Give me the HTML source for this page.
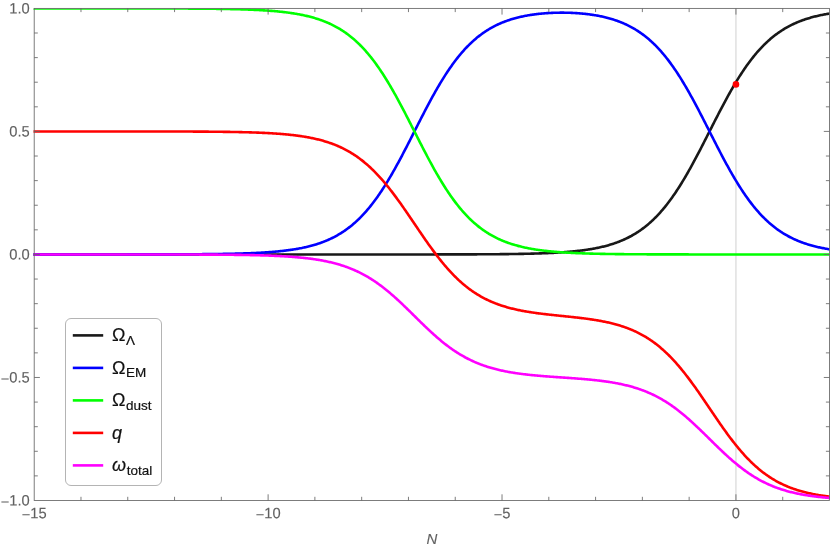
<!DOCTYPE html>
<html><head><meta charset="utf-8"><title>plot</title>
<style>html,body{margin:0;padding:0;background:#fff;}svg{display:block;}text{font-family:"Liberation Sans",sans-serif;}</style></head><body>
<svg width="830" height="548" viewBox="0 0 830 548">
<rect width="830" height="548" fill="#ffffff"/>
<line x1="735.94" y1="8.40" x2="735.94" y2="500.50" stroke="#cccccc" stroke-width="0.9"/>
<clipPath id="pc"><rect x="33.50" y="8.40" width="796.00" height="492.10"/></clipPath>
<g fill="none" stroke-width="2.60" stroke-linejoin="round" stroke-linecap="butt" clip-path="url(#pc)">
<path d="M32.33 254.45 L33.26 254.45 L34.20 254.45 L35.14 254.45 L36.07 254.45 L37.01 254.45 L37.94 254.45 L38.88 254.45 L39.81 254.45 L40.75 254.45 L41.69 254.45 L42.62 254.45 L43.56 254.45 L44.49 254.45 L45.43 254.45 L46.36 254.45 L47.30 254.45 L48.23 254.45 L49.17 254.45 L50.11 254.45 L51.04 254.45 L51.98 254.45 L52.91 254.45 L53.85 254.45 L54.78 254.45 L55.72 254.45 L56.66 254.45 L57.59 254.45 L58.53 254.45 L59.46 254.45 L60.40 254.45 L61.33 254.45 L62.27 254.45 L63.21 254.45 L64.14 254.45 L65.08 254.45 L66.01 254.45 L66.95 254.45 L67.88 254.45 L68.82 254.45 L69.75 254.45 L70.69 254.45 L71.63 254.45 L72.56 254.45 L73.50 254.45 L74.43 254.45 L75.37 254.45 L76.30 254.45 L77.24 254.45 L78.18 254.45 L79.11 254.45 L80.05 254.45 L80.98 254.45 L81.92 254.45 L82.85 254.45 L83.79 254.45 L84.72 254.45 L85.66 254.45 L86.60 254.45 L87.53 254.45 L88.47 254.45 L89.40 254.45 L90.34 254.45 L91.27 254.45 L92.21 254.45 L93.15 254.45 L94.08 254.45 L95.02 254.45 L95.95 254.45 L96.89 254.45 L97.82 254.45 L98.76 254.45 L99.70 254.45 L100.63 254.45 L101.57 254.45 L102.50 254.45 L103.44 254.45 L104.37 254.45 L105.31 254.45 L106.24 254.45 L107.18 254.45 L108.12 254.45 L109.05 254.45 L109.99 254.45 L110.92 254.45 L111.86 254.45 L112.79 254.45 L113.73 254.45 L114.67 254.45 L115.60 254.45 L116.54 254.45 L117.47 254.45 L118.41 254.45 L119.34 254.45 L120.28 254.45 L121.22 254.45 L122.15 254.45 L123.09 254.45 L124.02 254.45 L124.96 254.45 L125.89 254.45 L126.83 254.45 L127.76 254.45 L128.70 254.45 L129.64 254.45 L130.57 254.45 L131.51 254.45 L132.44 254.45 L133.38 254.45 L134.31 254.45 L135.25 254.45 L136.19 254.45 L137.12 254.45 L138.06 254.45 L138.99 254.45 L139.93 254.45 L140.86 254.45 L141.80 254.45 L142.74 254.45 L143.67 254.45 L144.61 254.45 L145.54 254.45 L146.48 254.45 L147.41 254.45 L148.35 254.45 L149.28 254.45 L150.22 254.45 L151.16 254.45 L152.09 254.45 L153.03 254.45 L153.96 254.45 L154.90 254.45 L155.83 254.45 L156.77 254.45 L157.71 254.45 L158.64 254.45 L159.58 254.45 L160.51 254.45 L161.45 254.45 L162.38 254.45 L163.32 254.45 L164.25 254.45 L165.19 254.45 L166.13 254.45 L167.06 254.45 L168.00 254.45 L168.93 254.45 L169.87 254.45 L170.80 254.45 L171.74 254.45 L172.68 254.45 L173.61 254.45 L174.55 254.45 L175.48 254.45 L176.42 254.45 L177.35 254.45 L178.29 254.45 L179.23 254.45 L180.16 254.45 L181.10 254.45 L182.03 254.45 L182.97 254.45 L183.90 254.45 L184.84 254.45 L185.77 254.45 L186.71 254.45 L187.65 254.45 L188.58 254.45 L189.52 254.45 L190.45 254.45 L191.39 254.45 L192.32 254.45 L193.26 254.45 L194.20 254.45 L195.13 254.45 L196.07 254.45 L197.00 254.45 L197.94 254.45 L198.87 254.45 L199.81 254.45 L200.75 254.45 L201.68 254.45 L202.62 254.45 L203.55 254.45 L204.49 254.45 L205.42 254.45 L206.36 254.45 L207.29 254.45 L208.23 254.45 L209.17 254.45 L210.10 254.45 L211.04 254.45 L211.97 254.45 L212.91 254.45 L213.84 254.45 L214.78 254.45 L215.72 254.45 L216.65 254.45 L217.59 254.45 L218.52 254.45 L219.46 254.45 L220.39 254.45 L221.33 254.45 L222.27 254.45 L223.20 254.45 L224.14 254.45 L225.07 254.45 L226.01 254.45 L226.94 254.45 L227.88 254.45 L228.81 254.45 L229.75 254.45 L230.69 254.45 L231.62 254.45 L232.56 254.45 L233.49 254.45 L234.43 254.45 L235.36 254.45 L236.30 254.45 L237.24 254.45 L238.17 254.45 L239.11 254.45 L240.04 254.45 L240.98 254.45 L241.91 254.45 L242.85 254.45 L243.78 254.45 L244.72 254.45 L245.66 254.45 L246.59 254.45 L247.53 254.45 L248.46 254.45 L249.40 254.45 L250.33 254.45 L251.27 254.45 L252.21 254.45 L253.14 254.45 L254.08 254.45 L255.01 254.45 L255.95 254.45 L256.88 254.45 L257.82 254.45 L258.76 254.45 L259.69 254.45 L260.63 254.45 L261.56 254.45 L262.50 254.45 L263.43 254.45 L264.37 254.45 L265.30 254.45 L266.24 254.45 L267.18 254.45 L268.11 254.45 L269.05 254.45 L269.98 254.45 L270.92 254.45 L271.85 254.45 L272.79 254.45 L273.73 254.45 L274.66 254.45 L275.60 254.45 L276.53 254.45 L277.47 254.45 L278.40 254.45 L279.34 254.45 L280.28 254.45 L281.21 254.45 L282.15 254.45 L283.08 254.45 L284.02 254.45 L284.95 254.45 L285.89 254.45 L286.82 254.45 L287.76 254.45 L288.70 254.45 L289.63 254.45 L290.57 254.45 L291.50 254.45 L292.44 254.45 L293.37 254.45 L294.31 254.45 L295.25 254.45 L296.18 254.45 L297.12 254.45 L298.05 254.45 L298.99 254.45 L299.92 254.45 L300.86 254.45 L301.80 254.45 L302.73 254.45 L303.67 254.45 L304.60 254.45 L305.54 254.45 L306.47 254.45 L307.41 254.45 L308.34 254.45 L309.28 254.45 L310.22 254.45 L311.15 254.45 L312.09 254.45 L313.02 254.45 L313.96 254.45 L314.89 254.45 L315.83 254.45 L316.77 254.45 L317.70 254.45 L318.64 254.45 L319.57 254.45 L320.51 254.45 L321.44 254.45 L322.38 254.45 L323.31 254.45 L324.25 254.45 L325.19 254.45 L326.12 254.45 L327.06 254.45 L327.99 254.45 L328.93 254.45 L329.86 254.45 L330.80 254.45 L331.74 254.45 L332.67 254.45 L333.61 254.45 L334.54 254.45 L335.48 254.45 L336.41 254.45 L337.35 254.45 L338.29 254.45 L339.22 254.45 L340.16 254.45 L341.09 254.45 L342.03 254.45 L342.96 254.45 L343.90 254.45 L344.83 254.45 L345.77 254.45 L346.71 254.45 L347.64 254.45 L348.58 254.45 L349.51 254.45 L350.45 254.45 L351.38 254.45 L352.32 254.45 L353.26 254.45 L354.19 254.45 L355.13 254.45 L356.06 254.45 L357.00 254.45 L357.93 254.45 L358.87 254.45 L359.81 254.45 L360.74 254.45 L361.68 254.45 L362.61 254.45 L363.55 254.45 L364.48 254.45 L365.42 254.45 L366.35 254.45 L367.29 254.45 L368.23 254.45 L369.16 254.45 L370.10 254.45 L371.03 254.45 L371.97 254.45 L372.90 254.45 L373.84 254.45 L374.78 254.45 L375.71 254.45 L376.65 254.45 L377.58 254.45 L378.52 254.45 L379.45 254.45 L380.39 254.45 L381.33 254.45 L382.26 254.45 L383.20 254.45 L384.13 254.45 L385.07 254.45 L386.00 254.45 L386.94 254.45 L387.87 254.45 L388.81 254.45 L389.75 254.45 L390.68 254.45 L391.62 254.45 L392.55 254.45 L393.49 254.45 L394.42 254.45 L395.36 254.45 L396.30 254.45 L397.23 254.45 L398.17 254.45 L399.10 254.45 L400.04 254.45 L400.97 254.45 L401.91 254.44 L402.84 254.44 L403.78 254.44 L404.72 254.44 L405.65 254.44 L406.59 254.44 L407.52 254.44 L408.46 254.44 L409.39 254.44 L410.33 254.44 L411.27 254.44 L412.20 254.44 L413.14 254.44 L414.07 254.44 L415.01 254.44 L415.94 254.44 L416.88 254.44 L417.82 254.44 L418.75 254.44 L419.69 254.44 L420.62 254.44 L421.56 254.44 L422.49 254.44 L423.43 254.44 L424.36 254.43 L425.30 254.43 L426.24 254.43 L427.17 254.43 L428.11 254.43 L429.04 254.43 L429.98 254.43 L430.91 254.43 L431.85 254.43 L432.79 254.43 L433.72 254.43 L434.66 254.43 L435.59 254.42 L436.53 254.42 L437.46 254.42 L438.40 254.42 L439.34 254.42 L440.27 254.42 L441.21 254.42 L442.14 254.42 L443.08 254.42 L444.01 254.41 L444.95 254.41 L445.88 254.41 L446.82 254.41 L447.76 254.41 L448.69 254.41 L449.63 254.41 L450.56 254.40 L451.50 254.40 L452.43 254.40 L453.37 254.40 L454.31 254.40 L455.24 254.39 L456.18 254.39 L457.11 254.39 L458.05 254.39 L458.98 254.39 L459.92 254.38 L460.86 254.38 L461.79 254.38 L462.73 254.38 L463.66 254.37 L464.60 254.37 L465.53 254.37 L466.47 254.36 L467.40 254.36 L468.34 254.36 L469.28 254.36 L470.21 254.35 L471.15 254.35 L472.08 254.34 L473.02 254.34 L473.95 254.34 L474.89 254.33 L475.83 254.33 L476.76 254.33 L477.70 254.32 L478.63 254.32 L479.57 254.31 L480.50 254.31 L481.44 254.30 L482.37 254.30 L483.31 254.29 L484.25 254.29 L485.18 254.28 L486.12 254.28 L487.05 254.27 L487.99 254.27 L488.92 254.26 L489.86 254.25 L490.80 254.25 L491.73 254.24 L492.67 254.23 L493.60 254.23 L494.54 254.22 L495.47 254.21 L496.41 254.20 L497.35 254.19 L498.28 254.19 L499.22 254.18 L500.15 254.17 L501.09 254.16 L502.02 254.15 L502.96 254.14 L503.89 254.13 L504.83 254.12 L505.77 254.11 L506.70 254.10 L507.64 254.09 L508.57 254.08 L509.51 254.07 L510.44 254.05 L511.38 254.04 L512.32 254.03 L513.25 254.01 L514.19 254.00 L515.12 253.99 L516.06 253.97 L516.99 253.96 L517.93 253.94 L518.87 253.92 L519.80 253.91 L520.74 253.89 L521.67 253.87 L522.61 253.86 L523.54 253.84 L524.48 253.82 L525.41 253.80 L526.35 253.78 L527.29 253.76 L528.22 253.74 L529.16 253.71 L530.09 253.69 L531.03 253.67 L531.96 253.64 L532.90 253.62 L533.84 253.59 L534.77 253.56 L535.71 253.54 L536.64 253.51 L537.58 253.48 L538.51 253.45 L539.45 253.42 L540.39 253.39 L541.32 253.35 L542.26 253.32 L543.19 253.29 L544.13 253.25 L545.06 253.21 L546.00 253.17 L546.93 253.14 L547.87 253.10 L548.81 253.05 L549.74 253.01 L550.68 252.97 L551.61 252.92 L552.55 252.87 L553.48 252.83 L554.42 252.78 L555.36 252.73 L556.29 252.67 L557.23 252.62 L558.16 252.56 L559.10 252.50 L560.03 252.45 L560.97 252.38 L561.90 252.32 L562.84 252.26 L563.78 252.19 L564.71 252.12 L565.65 252.05 L566.58 251.98 L567.52 251.90 L568.45 251.83 L569.39 251.75 L570.33 251.66 L571.26 251.58 L572.20 251.49 L573.13 251.40 L574.07 251.31 L575.00 251.22 L575.94 251.12 L576.88 251.02 L577.81 250.91 L578.75 250.81 L579.68 250.70 L580.62 250.58 L581.55 250.47 L582.49 250.35 L583.42 250.22 L584.36 250.10 L585.30 249.97 L586.23 249.83 L587.17 249.69 L588.10 249.55 L589.04 249.40 L589.97 249.25 L590.91 249.10 L591.85 248.94 L592.78 248.77 L593.72 248.60 L594.65 248.43 L595.59 248.25 L596.52 248.07 L597.46 247.88 L598.40 247.68 L599.33 247.48 L600.27 247.27 L601.20 247.06 L602.14 246.84 L603.07 246.62 L604.01 246.39 L604.94 246.15 L605.88 245.90 L606.82 245.65 L607.75 245.39 L608.69 245.13 L609.62 244.86 L610.56 244.57 L611.49 244.29 L612.43 243.99 L613.37 243.68 L614.30 243.37 L615.24 243.05 L616.17 242.72 L617.11 242.38 L618.04 242.03 L618.98 241.67 L619.92 241.30 L620.85 240.92 L621.79 240.53 L622.72 240.13 L623.66 239.72 L624.59 239.30 L625.53 238.87 L626.46 238.42 L627.40 237.97 L628.34 237.50 L629.27 237.02 L630.21 236.52 L631.14 236.02 L632.08 235.50 L633.01 234.97 L633.95 234.42 L634.89 233.86 L635.82 233.29 L636.76 232.70 L637.69 232.10 L638.63 231.48 L639.56 230.85 L640.50 230.20 L641.43 229.54 L642.37 228.86 L643.31 228.16 L644.24 227.45 L645.18 226.72 L646.11 225.97 L647.05 225.20 L647.98 224.42 L648.92 223.62 L649.86 222.80 L650.79 221.97 L651.73 221.11 L652.66 220.24 L653.60 219.34 L654.53 218.43 L655.47 217.50 L656.41 216.54 L657.34 215.57 L658.28 214.58 L659.21 213.57 L660.15 212.53 L661.08 211.48 L662.02 210.40 L662.95 209.31 L663.89 208.19 L664.83 207.05 L665.76 205.89 L666.70 204.71 L667.63 203.51 L668.57 202.29 L669.50 201.05 L670.44 199.78 L671.38 198.49 L672.31 197.19 L673.25 195.86 L674.18 194.51 L675.12 193.14 L676.05 191.74 L676.99 190.33 L677.93 188.90 L678.86 187.45 L679.80 185.97 L680.73 184.48 L681.67 182.97 L682.60 181.44 L683.54 179.89 L684.47 178.32 L685.41 176.73 L686.35 175.13 L687.28 173.51 L688.22 171.87 L689.15 170.21 L690.09 168.54 L691.02 166.86 L691.96 165.16 L692.90 163.45 L693.83 161.72 L694.77 159.98 L695.70 158.23 L696.64 156.46 L697.57 154.69 L698.51 152.90 L699.45 151.11 L700.38 149.31 L701.32 147.50 L702.25 145.68 L703.19 143.85 L704.12 142.03 L705.06 140.19 L705.99 138.35 L706.93 136.51 L707.87 134.67 L708.80 132.82 L709.74 130.98 L710.67 129.13 L711.61 127.29 L712.54 125.45 L713.48 123.61 L714.42 121.77 L715.35 119.94 L716.29 118.11 L717.22 116.29 L718.16 114.48 L719.09 112.67 L720.03 110.87 L720.96 109.08 L721.90 107.30 L722.84 105.53 L723.77 103.78 L724.71 102.03 L725.64 100.30 L726.58 98.58 L727.51 96.87 L728.45 95.18 L729.39 93.50 L730.32 91.84 L731.26 90.19 L732.19 88.56 L733.13 86.95 L734.06 85.35 L735.00 83.77 L735.94 82.21 L736.87 80.67 L737.81 79.15 L738.74 77.65 L739.68 76.17 L740.61 74.70 L741.55 73.26 L742.48 71.84 L743.42 70.44 L744.36 69.05 L745.29 67.69 L746.23 66.35 L747.16 65.04 L748.10 63.74 L749.03 62.46 L749.97 61.21 L750.91 59.97 L751.84 58.76 L752.78 57.57 L753.71 56.40 L754.65 55.25 L755.58 54.12 L756.52 53.02 L757.46 51.93 L758.39 50.87 L759.33 49.82 L760.26 48.80 L761.20 47.80 L762.13 46.82 L763.07 45.85 L764.00 44.91 L764.94 43.99 L765.88 43.08 L766.81 42.20 L767.75 41.33 L768.68 40.49 L769.62 39.66 L770.55 38.85 L771.49 38.06 L772.43 37.29 L773.36 36.53 L774.30 35.79 L775.23 35.07 L776.17 34.36 L777.10 33.68 L778.04 33.00 L778.98 32.35 L779.91 31.71 L780.85 31.08 L781.78 30.47 L782.72 29.87 L783.65 29.29 L784.59 28.73 L785.52 28.18 L786.46 27.64 L787.40 27.11 L788.33 26.60 L789.27 26.10 L790.20 25.61 L791.14 25.14 L792.07 24.68 L793.01 24.23 L793.95 23.79 L794.88 23.36 L795.82 22.95 L796.75 22.54 L797.69 22.15 L798.62 21.76 L799.56 21.39 L800.49 21.02 L801.43 20.67 L802.37 20.32 L803.30 19.99 L804.24 19.66 L805.17 19.34 L806.11 19.03 L807.04 18.73 L807.98 18.44 L808.92 18.15 L809.85 17.88 L810.79 17.61 L811.72 17.35 L812.66 17.09 L813.59 16.84 L814.53 16.60 L815.47 16.37 L816.40 16.14 L817.34 15.92 L818.27 15.70 L819.21 15.49 L820.14 15.29 L821.08 15.09 L822.01 14.90 L822.95 14.71 L823.89 14.53 L824.82 14.35 L825.76 14.18 L826.69 14.01 L827.63 13.85 L828.56 13.69 L829.50 13.54 L830.44 13.39 L831.37 13.25" stroke="#181818"/>
<path d="M32.33 254.45 L33.26 254.45 L34.20 254.45 L35.14 254.45 L36.07 254.45 L37.01 254.45 L37.94 254.45 L38.88 254.45 L39.81 254.45 L40.75 254.45 L41.69 254.45 L42.62 254.45 L43.56 254.45 L44.49 254.45 L45.43 254.45 L46.36 254.45 L47.30 254.45 L48.23 254.45 L49.17 254.45 L50.11 254.45 L51.04 254.45 L51.98 254.45 L52.91 254.45 L53.85 254.45 L54.78 254.45 L55.72 254.45 L56.66 254.45 L57.59 254.45 L58.53 254.45 L59.46 254.45 L60.40 254.45 L61.33 254.45 L62.27 254.45 L63.21 254.45 L64.14 254.45 L65.08 254.45 L66.01 254.45 L66.95 254.45 L67.88 254.45 L68.82 254.45 L69.75 254.45 L70.69 254.45 L71.63 254.45 L72.56 254.45 L73.50 254.45 L74.43 254.45 L75.37 254.45 L76.30 254.45 L77.24 254.45 L78.18 254.44 L79.11 254.44 L80.05 254.44 L80.98 254.44 L81.92 254.44 L82.85 254.44 L83.79 254.44 L84.72 254.44 L85.66 254.44 L86.60 254.44 L87.53 254.44 L88.47 254.44 L89.40 254.44 L90.34 254.44 L91.27 254.44 L92.21 254.44 L93.15 254.44 L94.08 254.44 L95.02 254.44 L95.95 254.44 L96.89 254.44 L97.82 254.44 L98.76 254.44 L99.70 254.44 L100.63 254.44 L101.57 254.44 L102.50 254.44 L103.44 254.44 L104.37 254.44 L105.31 254.44 L106.24 254.44 L107.18 254.44 L108.12 254.44 L109.05 254.44 L109.99 254.44 L110.92 254.44 L111.86 254.43 L112.79 254.43 L113.73 254.43 L114.67 254.43 L115.60 254.43 L116.54 254.43 L117.47 254.43 L118.41 254.43 L119.34 254.43 L120.28 254.43 L121.22 254.43 L122.15 254.43 L123.09 254.43 L124.02 254.43 L124.96 254.43 L125.89 254.43 L126.83 254.43 L127.76 254.42 L128.70 254.42 L129.64 254.42 L130.57 254.42 L131.51 254.42 L132.44 254.42 L133.38 254.42 L134.31 254.42 L135.25 254.42 L136.19 254.42 L137.12 254.42 L138.06 254.42 L138.99 254.41 L139.93 254.41 L140.86 254.41 L141.80 254.41 L142.74 254.41 L143.67 254.41 L144.61 254.41 L145.54 254.41 L146.48 254.40 L147.41 254.40 L148.35 254.40 L149.28 254.40 L150.22 254.40 L151.16 254.40 L152.09 254.40 L153.03 254.39 L153.96 254.39 L154.90 254.39 L155.83 254.39 L156.77 254.39 L157.71 254.38 L158.64 254.38 L159.58 254.38 L160.51 254.38 L161.45 254.38 L162.38 254.37 L163.32 254.37 L164.25 254.37 L165.19 254.37 L166.13 254.36 L167.06 254.36 L168.00 254.36 L168.93 254.36 L169.87 254.35 L170.80 254.35 L171.74 254.35 L172.68 254.34 L173.61 254.34 L174.55 254.34 L175.48 254.33 L176.42 254.33 L177.35 254.33 L178.29 254.32 L179.23 254.32 L180.16 254.32 L181.10 254.31 L182.03 254.31 L182.97 254.30 L183.90 254.30 L184.84 254.29 L185.77 254.29 L186.71 254.28 L187.65 254.28 L188.58 254.27 L189.52 254.27 L190.45 254.26 L191.39 254.26 L192.32 254.25 L193.26 254.25 L194.20 254.24 L195.13 254.23 L196.07 254.23 L197.00 254.22 L197.94 254.21 L198.87 254.21 L199.81 254.20 L200.75 254.19 L201.68 254.18 L202.62 254.17 L203.55 254.17 L204.49 254.16 L205.42 254.15 L206.36 254.14 L207.29 254.13 L208.23 254.12 L209.17 254.11 L210.10 254.10 L211.04 254.09 L211.97 254.08 L212.91 254.07 L213.84 254.05 L214.78 254.04 L215.72 254.03 L216.65 254.02 L217.59 254.00 L218.52 253.99 L219.46 253.98 L220.39 253.96 L221.33 253.95 L222.27 253.93 L223.20 253.92 L224.14 253.90 L225.07 253.88 L226.01 253.87 L226.94 253.85 L227.88 253.83 L228.81 253.81 L229.75 253.79 L230.69 253.77 L231.62 253.75 L232.56 253.73 L233.49 253.71 L234.43 253.69 L235.36 253.66 L236.30 253.64 L237.24 253.61 L238.17 253.59 L239.11 253.56 L240.04 253.54 L240.98 253.51 L241.91 253.48 L242.85 253.45 L243.78 253.42 L244.72 253.39 L245.66 253.36 L246.59 253.32 L247.53 253.29 L248.46 253.25 L249.40 253.22 L250.33 253.18 L251.27 253.14 L252.21 253.10 L253.14 253.06 L254.08 253.02 L255.01 252.98 L255.95 252.93 L256.88 252.88 L257.82 252.84 L258.76 252.79 L259.69 252.74 L260.63 252.69 L261.56 252.63 L262.50 252.58 L263.43 252.52 L264.37 252.46 L265.30 252.40 L266.24 252.34 L267.18 252.28 L268.11 252.21 L269.05 252.15 L269.98 252.08 L270.92 252.00 L271.85 251.93 L272.79 251.85 L273.73 251.78 L274.66 251.70 L275.60 251.61 L276.53 251.53 L277.47 251.44 L278.40 251.35 L279.34 251.26 L280.28 251.16 L281.21 251.06 L282.15 250.96 L283.08 250.85 L284.02 250.75 L284.95 250.64 L285.89 250.52 L286.82 250.40 L287.76 250.28 L288.70 250.16 L289.63 250.03 L290.57 249.90 L291.50 249.76 L292.44 249.62 L293.37 249.48 L294.31 249.33 L295.25 249.18 L296.18 249.02 L297.12 248.86 L298.05 248.69 L298.99 248.52 L299.92 248.34 L300.86 248.16 L301.80 247.98 L302.73 247.78 L303.67 247.59 L304.60 247.38 L305.54 247.18 L306.47 246.96 L307.41 246.74 L308.34 246.51 L309.28 246.28 L310.22 246.04 L311.15 245.79 L312.09 245.54 L313.02 245.28 L313.96 245.01 L314.89 244.73 L315.83 244.45 L316.77 244.15 L317.70 243.85 L318.64 243.55 L319.57 243.23 L320.51 242.90 L321.44 242.57 L322.38 242.22 L323.31 241.87 L324.25 241.51 L325.19 241.14 L326.12 240.75 L327.06 240.36 L327.99 239.96 L328.93 239.54 L329.86 239.12 L330.80 238.68 L331.74 238.23 L332.67 237.77 L333.61 237.30 L334.54 236.81 L335.48 236.31 L336.41 235.80 L337.35 235.28 L338.29 234.74 L339.22 234.19 L340.16 233.63 L341.09 233.05 L342.03 232.46 L342.96 231.85 L343.90 231.22 L344.83 230.58 L345.77 229.93 L346.71 229.26 L347.64 228.57 L348.58 227.87 L349.51 227.15 L350.45 226.41 L351.38 225.66 L352.32 224.89 L353.26 224.10 L354.19 223.29 L355.13 222.47 L356.06 221.62 L357.00 220.76 L357.93 219.88 L358.87 218.98 L359.81 218.06 L360.74 217.12 L361.68 216.16 L362.61 215.18 L363.55 214.18 L364.48 213.16 L365.42 212.11 L366.35 211.05 L367.29 209.97 L368.23 208.87 L369.16 207.74 L370.10 206.60 L371.03 205.43 L371.97 204.24 L372.90 203.03 L373.84 201.80 L374.78 200.55 L375.71 199.27 L376.65 197.98 L377.58 196.66 L378.52 195.33 L379.45 193.97 L380.39 192.59 L381.33 191.19 L382.26 189.77 L383.20 188.33 L384.13 186.87 L385.07 185.39 L386.00 183.89 L386.94 182.37 L387.87 180.83 L388.81 179.27 L389.75 177.70 L390.68 176.11 L391.62 174.50 L392.55 172.87 L393.49 171.22 L394.42 169.56 L395.36 167.89 L396.30 166.20 L397.23 164.49 L398.17 162.77 L399.10 161.04 L400.04 159.30 L400.97 157.54 L401.91 155.77 L402.84 153.99 L403.78 152.21 L404.72 150.41 L405.65 148.60 L406.59 146.79 L407.52 144.97 L408.46 143.15 L409.39 141.32 L410.33 139.48 L411.27 137.64 L412.20 135.80 L413.14 133.96 L414.07 132.11 L415.01 130.27 L415.94 128.42 L416.88 126.58 L417.82 124.74 L418.75 122.90 L419.69 121.07 L420.62 119.24 L421.56 117.41 L422.49 115.59 L423.43 113.78 L424.36 111.98 L425.30 110.19 L426.24 108.40 L427.17 106.63 L428.11 104.86 L429.04 103.11 L429.98 101.37 L430.91 99.64 L431.85 97.93 L432.79 96.23 L433.72 94.54 L434.66 92.87 L435.59 91.21 L436.53 89.57 L437.46 87.95 L438.40 86.35 L439.34 84.76 L440.27 83.19 L441.21 81.64 L442.14 80.11 L443.08 78.59 L444.01 77.10 L444.95 75.62 L445.88 74.17 L446.82 72.74 L447.76 71.32 L448.69 69.93 L449.63 68.56 L450.56 67.21 L451.50 65.88 L452.43 64.57 L453.37 63.28 L454.31 62.02 L455.24 60.77 L456.18 59.55 L457.11 58.35 L458.05 57.16 L458.98 56.01 L459.92 54.87 L460.86 53.75 L461.79 52.65 L462.73 51.58 L463.66 50.53 L464.60 49.49 L465.53 48.48 L466.47 47.49 L467.40 46.52 L468.34 45.56 L469.28 44.63 L470.21 43.72 L471.15 42.83 L472.08 41.95 L473.02 41.10 L473.95 40.26 L474.89 39.45 L475.83 38.65 L476.76 37.87 L477.70 37.10 L478.63 36.36 L479.57 35.63 L480.50 34.92 L481.44 34.23 L482.37 33.55 L483.31 32.89 L484.25 32.24 L485.18 31.61 L486.12 31.00 L487.05 30.40 L487.99 29.82 L488.92 29.25 L489.86 28.69 L490.80 28.15 L491.73 27.63 L492.67 27.11 L493.60 26.61 L494.54 26.13 L495.47 25.65 L496.41 25.19 L497.35 24.74 L498.28 24.30 L499.22 23.88 L500.15 23.46 L501.09 23.06 L502.02 22.67 L502.96 22.29 L503.89 21.92 L504.83 21.56 L505.77 21.21 L506.70 20.87 L507.64 20.54 L508.57 20.22 L509.51 19.90 L510.44 19.60 L511.38 19.31 L512.32 19.02 L513.25 18.75 L514.19 18.48 L515.12 18.22 L516.06 17.97 L516.99 17.72 L517.93 17.49 L518.87 17.26 L519.80 17.03 L520.74 16.82 L521.67 16.61 L522.61 16.41 L523.54 16.21 L524.48 16.03 L525.41 15.84 L526.35 15.67 L527.29 15.50 L528.22 15.34 L529.16 15.18 L530.09 15.03 L531.03 14.88 L531.96 14.74 L532.90 14.60 L533.84 14.47 L534.77 14.35 L535.71 14.23 L536.64 14.11 L537.58 14.00 L538.51 13.90 L539.45 13.80 L540.39 13.70 L541.32 13.61 L542.26 13.53 L543.19 13.44 L544.13 13.37 L545.06 13.29 L546.00 13.22 L546.93 13.16 L547.87 13.10 L548.81 13.04 L549.74 12.99 L550.68 12.94 L551.61 12.90 L552.55 12.86 L553.48 12.82 L554.42 12.79 L555.36 12.76 L556.29 12.73 L557.23 12.71 L558.16 12.70 L559.10 12.68 L560.03 12.67 L560.97 12.67 L561.90 12.66 L562.84 12.67 L563.78 12.67 L564.71 12.68 L565.65 12.69 L566.58 12.71 L567.52 12.73 L568.45 12.76 L569.39 12.78 L570.33 12.82 L571.26 12.85 L572.20 12.89 L573.13 12.94 L574.07 12.98 L575.00 13.04 L575.94 13.09 L576.88 13.15 L577.81 13.22 L578.75 13.28 L579.68 13.36 L580.62 13.43 L581.55 13.52 L582.49 13.60 L583.42 13.69 L584.36 13.79 L585.30 13.89 L586.23 13.99 L587.17 14.10 L588.10 14.21 L589.04 14.33 L589.97 14.46 L590.91 14.59 L591.85 14.72 L592.78 14.86 L593.72 15.01 L594.65 15.16 L595.59 15.32 L596.52 15.48 L597.46 15.65 L598.40 15.82 L599.33 16.00 L600.27 16.19 L601.20 16.38 L602.14 16.59 L603.07 16.79 L604.01 17.01 L604.94 17.23 L605.88 17.46 L606.82 17.69 L607.75 17.94 L608.69 18.19 L609.62 18.45 L610.56 18.71 L611.49 18.99 L612.43 19.27 L613.37 19.56 L614.30 19.87 L615.24 20.18 L616.17 20.50 L617.11 20.83 L618.04 21.16 L618.98 21.51 L619.92 21.87 L620.85 22.24 L621.79 22.62 L622.72 23.01 L623.66 23.41 L624.59 23.82 L625.53 24.25 L626.46 24.69 L627.40 25.13 L628.34 25.59 L629.27 26.07 L630.21 26.55 L631.14 27.05 L632.08 27.56 L633.01 28.09 L633.95 28.63 L634.89 29.18 L635.82 29.75 L636.76 30.33 L637.69 30.92 L638.63 31.54 L639.56 32.16 L640.50 32.81 L641.43 33.47 L642.37 34.14 L643.31 34.83 L644.24 35.54 L645.18 36.27 L646.11 37.01 L647.05 37.77 L647.98 38.55 L648.92 39.35 L649.86 40.16 L650.79 40.99 L651.73 41.85 L652.66 42.72 L653.60 43.61 L654.53 44.52 L655.47 45.45 L656.41 46.40 L657.34 47.37 L658.28 48.35 L659.21 49.36 L660.15 50.40 L661.08 51.45 L662.02 52.52 L662.95 53.61 L663.89 54.73 L664.83 55.86 L665.76 57.02 L666.70 58.20 L667.63 59.40 L668.57 60.62 L669.50 61.86 L670.44 63.12 L671.38 64.41 L672.31 65.71 L673.25 67.04 L674.18 68.39 L675.12 69.76 L676.05 71.15 L676.99 72.56 L677.93 73.99 L678.86 75.44 L679.80 76.91 L680.73 78.40 L681.67 79.92 L682.60 81.45 L683.54 82.99 L684.47 84.56 L685.41 86.15 L686.35 87.75 L687.28 89.37 L688.22 91.01 L689.15 92.66 L690.09 94.33 L691.02 96.01 L691.96 97.71 L692.90 99.43 L693.83 101.15 L694.77 102.89 L695.70 104.64 L696.64 106.41 L697.57 108.18 L698.51 109.96 L699.45 111.76 L700.38 113.56 L701.32 115.37 L702.25 117.18 L703.19 119.01 L704.12 120.84 L705.06 122.67 L705.99 124.51 L706.93 126.35 L707.87 128.19 L708.80 130.04 L709.74 131.88 L710.67 133.73 L711.61 135.57 L712.54 137.41 L713.48 139.25 L714.42 141.09 L715.35 142.92 L716.29 144.74 L717.22 146.56 L718.16 148.38 L719.09 150.18 L720.03 151.98 L720.96 153.77 L721.90 155.55 L722.84 157.32 L723.77 159.08 L724.71 160.82 L725.64 162.56 L726.58 164.28 L727.51 165.98 L728.45 167.68 L729.39 169.35 L730.32 171.02 L731.26 172.66 L732.19 174.29 L733.13 175.91 L734.06 177.50 L735.00 179.08 L735.94 180.64 L736.87 182.18 L737.81 183.70 L738.74 185.20 L739.68 186.69 L740.61 188.15 L741.55 189.59 L742.48 191.01 L743.42 192.42 L744.36 193.80 L745.29 195.16 L746.23 196.50 L747.16 197.82 L748.10 199.11 L749.03 200.39 L749.97 201.64 L750.91 202.88 L751.84 204.09 L752.78 205.28 L753.71 206.45 L754.65 207.60 L755.58 208.73 L756.52 209.83 L757.46 210.92 L758.39 211.98 L759.33 213.03 L760.26 214.05 L761.20 215.05 L762.13 216.04 L763.07 217.00 L764.00 217.94 L764.94 218.86 L765.88 219.77 L766.81 220.65 L767.75 221.52 L768.68 222.36 L769.62 223.19 L770.55 224.00 L771.49 224.79 L772.43 225.56 L773.36 226.32 L774.30 227.06 L775.23 227.78 L776.17 228.49 L777.10 229.18 L778.04 229.85 L778.98 230.50 L779.91 231.14 L780.85 231.77 L781.78 232.38 L782.72 232.98 L783.65 233.56 L784.59 234.12 L785.52 234.67 L786.46 235.21 L787.40 235.74 L788.33 236.25 L789.27 236.75 L790.20 237.24 L791.14 237.71 L792.07 238.17 L793.01 238.62 L793.95 239.06 L794.88 239.49 L795.82 239.90 L796.75 240.31 L797.69 240.70 L798.62 241.09 L799.56 241.46 L800.49 241.83 L801.43 242.18 L802.37 242.53 L803.30 242.86 L804.24 243.19 L805.17 243.51 L806.11 243.82 L807.04 244.12 L807.98 244.41 L808.92 244.70 L809.85 244.97 L810.79 245.24 L811.72 245.50 L812.66 245.76 L813.59 246.01 L814.53 246.25 L815.47 246.48 L816.40 246.71 L817.34 246.93 L818.27 247.15 L819.21 247.36 L820.14 247.56 L821.08 247.76 L822.01 247.95 L822.95 248.14 L823.89 248.32 L824.82 248.50 L825.76 248.67 L826.69 248.84 L827.63 249.00 L828.56 249.16 L829.50 249.31 L830.44 249.46 L831.37 249.60" stroke="#0000ff"/>
<path d="M32.33 8.40 L33.26 8.40 L34.20 8.40 L35.14 8.40 L36.07 8.40 L37.01 8.40 L37.94 8.40 L38.88 8.40 L39.81 8.40 L40.75 8.40 L41.69 8.40 L42.62 8.40 L43.56 8.40 L44.49 8.40 L45.43 8.40 L46.36 8.40 L47.30 8.40 L48.23 8.40 L49.17 8.40 L50.11 8.40 L51.04 8.40 L51.98 8.40 L52.91 8.40 L53.85 8.40 L54.78 8.40 L55.72 8.40 L56.66 8.40 L57.59 8.40 L58.53 8.40 L59.46 8.40 L60.40 8.40 L61.33 8.40 L62.27 8.40 L63.21 8.40 L64.14 8.40 L65.08 8.40 L66.01 8.40 L66.95 8.40 L67.88 8.40 L68.82 8.40 L69.75 8.40 L70.69 8.40 L71.63 8.40 L72.56 8.40 L73.50 8.40 L74.43 8.40 L75.37 8.40 L76.30 8.40 L77.24 8.40 L78.18 8.41 L79.11 8.41 L80.05 8.41 L80.98 8.41 L81.92 8.41 L82.85 8.41 L83.79 8.41 L84.72 8.41 L85.66 8.41 L86.60 8.41 L87.53 8.41 L88.47 8.41 L89.40 8.41 L90.34 8.41 L91.27 8.41 L92.21 8.41 L93.15 8.41 L94.08 8.41 L95.02 8.41 L95.95 8.41 L96.89 8.41 L97.82 8.41 L98.76 8.41 L99.70 8.41 L100.63 8.41 L101.57 8.41 L102.50 8.41 L103.44 8.41 L104.37 8.41 L105.31 8.41 L106.24 8.41 L107.18 8.41 L108.12 8.41 L109.05 8.41 L109.99 8.41 L110.92 8.41 L111.86 8.42 L112.79 8.42 L113.73 8.42 L114.67 8.42 L115.60 8.42 L116.54 8.42 L117.47 8.42 L118.41 8.42 L119.34 8.42 L120.28 8.42 L121.22 8.42 L122.15 8.42 L123.09 8.42 L124.02 8.42 L124.96 8.42 L125.89 8.42 L126.83 8.42 L127.76 8.43 L128.70 8.43 L129.64 8.43 L130.57 8.43 L131.51 8.43 L132.44 8.43 L133.38 8.43 L134.31 8.43 L135.25 8.43 L136.19 8.43 L137.12 8.43 L138.06 8.43 L138.99 8.44 L139.93 8.44 L140.86 8.44 L141.80 8.44 L142.74 8.44 L143.67 8.44 L144.61 8.44 L145.54 8.44 L146.48 8.45 L147.41 8.45 L148.35 8.45 L149.28 8.45 L150.22 8.45 L151.16 8.45 L152.09 8.45 L153.03 8.46 L153.96 8.46 L154.90 8.46 L155.83 8.46 L156.77 8.46 L157.71 8.47 L158.64 8.47 L159.58 8.47 L160.51 8.47 L161.45 8.47 L162.38 8.48 L163.32 8.48 L164.25 8.48 L165.19 8.48 L166.13 8.49 L167.06 8.49 L168.00 8.49 L168.93 8.49 L169.87 8.50 L170.80 8.50 L171.74 8.50 L172.68 8.51 L173.61 8.51 L174.55 8.51 L175.48 8.52 L176.42 8.52 L177.35 8.52 L178.29 8.53 L179.23 8.53 L180.16 8.53 L181.10 8.54 L182.03 8.54 L182.97 8.55 L183.90 8.55 L184.84 8.56 L185.77 8.56 L186.71 8.57 L187.65 8.57 L188.58 8.58 L189.52 8.58 L190.45 8.59 L191.39 8.59 L192.32 8.60 L193.26 8.60 L194.20 8.61 L195.13 8.62 L196.07 8.62 L197.00 8.63 L197.94 8.64 L198.87 8.64 L199.81 8.65 L200.75 8.66 L201.68 8.67 L202.62 8.68 L203.55 8.68 L204.49 8.69 L205.42 8.70 L206.36 8.71 L207.29 8.72 L208.23 8.73 L209.17 8.74 L210.10 8.75 L211.04 8.76 L211.97 8.77 L212.91 8.78 L213.84 8.80 L214.78 8.81 L215.72 8.82 L216.65 8.83 L217.59 8.85 L218.52 8.86 L219.46 8.87 L220.39 8.89 L221.33 8.90 L222.27 8.92 L223.20 8.93 L224.14 8.95 L225.07 8.97 L226.01 8.98 L226.94 9.00 L227.88 9.02 L228.81 9.04 L229.75 9.06 L230.69 9.08 L231.62 9.10 L232.56 9.12 L233.49 9.14 L234.43 9.16 L235.36 9.19 L236.30 9.21 L237.24 9.24 L238.17 9.26 L239.11 9.29 L240.04 9.31 L240.98 9.34 L241.91 9.37 L242.85 9.40 L243.78 9.43 L244.72 9.46 L245.66 9.49 L246.59 9.53 L247.53 9.56 L248.46 9.60 L249.40 9.63 L250.33 9.67 L251.27 9.71 L252.21 9.75 L253.14 9.79 L254.08 9.83 L255.01 9.87 L255.95 9.92 L256.88 9.97 L257.82 10.01 L258.76 10.06 L259.69 10.11 L260.63 10.16 L261.56 10.22 L262.50 10.27 L263.43 10.33 L264.37 10.39 L265.30 10.45 L266.24 10.51 L267.18 10.57 L268.11 10.64 L269.05 10.70 L269.98 10.77 L270.92 10.85 L271.85 10.92 L272.79 11.00 L273.73 11.07 L274.66 11.15 L275.60 11.24 L276.53 11.32 L277.47 11.41 L278.40 11.50 L279.34 11.59 L280.28 11.69 L281.21 11.79 L282.15 11.89 L283.08 12.00 L284.02 12.10 L284.95 12.21 L285.89 12.33 L286.82 12.45 L287.76 12.57 L288.70 12.69 L289.63 12.82 L290.57 12.95 L291.50 13.09 L292.44 13.23 L293.37 13.37 L294.31 13.52 L295.25 13.67 L296.18 13.83 L297.12 13.99 L298.05 14.16 L298.99 14.33 L299.92 14.51 L300.86 14.69 L301.80 14.87 L302.73 15.07 L303.67 15.26 L304.60 15.47 L305.54 15.67 L306.47 15.89 L307.41 16.11 L308.34 16.34 L309.28 16.57 L310.22 16.81 L311.15 17.06 L312.09 17.31 L313.02 17.57 L313.96 17.84 L314.89 18.12 L315.83 18.40 L316.77 18.70 L317.70 19.00 L318.64 19.30 L319.57 19.62 L320.51 19.95 L321.44 20.28 L322.38 20.63 L323.31 20.98 L324.25 21.34 L325.19 21.71 L326.12 22.10 L327.06 22.49 L327.99 22.89 L328.93 23.31 L329.86 23.73 L330.80 24.17 L331.74 24.62 L332.67 25.08 L333.61 25.55 L334.54 26.04 L335.48 26.54 L336.41 27.05 L337.35 27.57 L338.29 28.11 L339.22 28.66 L340.16 29.22 L341.09 29.80 L342.03 30.40 L342.96 31.00 L343.90 31.63 L344.83 32.27 L345.77 32.92 L346.71 33.59 L347.64 34.28 L348.58 34.98 L349.51 35.70 L350.45 36.44 L351.38 37.19 L352.32 37.96 L353.26 38.75 L354.19 39.56 L355.13 40.38 L356.06 41.23 L357.00 42.09 L357.93 42.97 L358.87 43.87 L359.81 44.79 L360.74 45.73 L361.68 46.69 L362.61 47.67 L363.55 48.67 L364.48 49.70 L365.42 50.74 L366.35 51.80 L367.29 52.88 L368.23 53.98 L369.16 55.11 L370.10 56.26 L371.03 57.42 L371.97 58.61 L372.90 59.82 L373.84 61.05 L374.78 62.30 L375.71 63.58 L376.65 64.87 L377.58 66.19 L378.52 67.52 L379.45 68.88 L380.39 70.26 L381.33 71.66 L382.26 73.08 L383.20 74.52 L384.13 75.98 L385.07 77.46 L386.00 78.96 L386.94 80.48 L387.87 82.02 L388.81 83.58 L389.75 85.15 L390.68 86.75 L391.62 88.36 L392.55 89.99 L393.49 91.63 L394.42 93.29 L395.36 94.97 L396.30 96.66 L397.23 98.36 L398.17 100.08 L399.10 101.81 L400.04 103.56 L400.97 105.31 L401.91 107.08 L402.84 108.86 L403.78 110.65 L404.72 112.45 L405.65 114.25 L406.59 116.06 L407.52 117.88 L408.46 119.71 L409.39 121.54 L410.33 123.38 L411.27 125.22 L412.20 127.06 L413.14 128.90 L414.07 130.75 L415.01 132.59 L415.94 134.44 L416.88 136.28 L417.82 138.12 L418.75 139.96 L419.69 141.80 L420.62 143.63 L421.56 145.45 L422.49 147.27 L423.43 149.08 L424.36 150.88 L425.30 152.68 L426.24 154.47 L427.17 156.24 L428.11 158.01 L429.04 159.76 L429.98 161.50 L430.91 163.23 L431.85 164.95 L432.79 166.65 L433.72 168.33 L434.66 170.01 L435.59 171.66 L436.53 173.30 L437.46 174.93 L438.40 176.53 L439.34 178.12 L440.27 179.69 L441.21 181.24 L442.14 182.78 L443.08 184.29 L444.01 185.79 L444.95 187.26 L445.88 188.72 L446.82 190.15 L447.76 191.57 L448.69 192.96 L449.63 194.34 L450.56 195.69 L451.50 197.02 L452.43 198.33 L453.37 199.62 L454.31 200.89 L455.24 202.13 L456.18 203.36 L457.11 204.56 L458.05 205.75 L458.98 206.91 L459.92 208.05 L460.86 209.17 L461.79 210.27 L462.73 211.34 L463.66 212.40 L464.60 213.44 L465.53 214.45 L466.47 215.45 L467.40 216.42 L468.34 217.38 L469.28 218.31 L470.21 219.23 L471.15 220.12 L472.08 221.00 L473.02 221.86 L473.95 222.70 L474.89 223.52 L475.83 224.32 L476.76 225.11 L477.70 225.87 L478.63 226.62 L479.57 227.36 L480.50 228.07 L481.44 228.77 L482.37 229.45 L483.31 230.12 L484.25 230.77 L485.18 231.40 L486.12 232.02 L487.05 232.63 L487.99 233.22 L488.92 233.79 L489.86 234.35 L490.80 234.90 L491.73 235.43 L492.67 235.95 L493.60 236.46 L494.54 236.96 L495.47 237.44 L496.41 237.91 L497.35 238.36 L498.28 238.81 L499.22 239.24 L500.15 239.67 L501.09 240.08 L502.02 240.48 L502.96 240.87 L503.89 241.25 L504.83 241.62 L505.77 241.98 L506.70 242.33 L507.64 242.67 L508.57 243.01 L509.51 243.33 L510.44 243.64 L511.38 243.95 L512.32 244.25 L513.25 244.54 L514.19 244.82 L515.12 245.10 L516.06 245.36 L516.99 245.62 L517.93 245.87 L518.87 246.12 L519.80 246.36 L520.74 246.59 L521.67 246.82 L522.61 247.03 L523.54 247.25 L524.48 247.46 L525.41 247.66 L526.35 247.85 L527.29 248.04 L528.22 248.23 L529.16 248.41 L530.09 248.58 L531.03 248.75 L531.96 248.92 L532.90 249.08 L533.84 249.23 L534.77 249.39 L535.71 249.53 L536.64 249.68 L537.58 249.82 L538.51 249.95 L539.45 250.08 L540.39 250.21 L541.32 250.33 L542.26 250.45 L543.19 250.57 L544.13 250.68 L545.06 250.79 L546.00 250.90 L546.93 251.00 L547.87 251.11 L548.81 251.20 L549.74 251.30 L550.68 251.39 L551.61 251.48 L552.55 251.57 L553.48 251.65 L554.42 251.74 L555.36 251.82 L556.29 251.89 L557.23 251.97 L558.16 252.04 L559.10 252.11 L560.03 252.18 L560.97 252.25 L561.90 252.31 L562.84 252.38 L563.78 252.44 L564.71 252.50 L565.65 252.56 L566.58 252.61 L567.52 252.67 L568.45 252.72 L569.39 252.77 L570.33 252.82 L571.26 252.87 L572.20 252.92 L573.13 252.96 L574.07 253.01 L575.00 253.05 L575.94 253.09 L576.88 253.13 L577.81 253.17 L578.75 253.21 L579.68 253.25 L580.62 253.28 L581.55 253.32 L582.49 253.35 L583.42 253.38 L584.36 253.41 L585.30 253.45 L586.23 253.48 L587.17 253.51 L588.10 253.53 L589.04 253.56 L589.97 253.59 L590.91 253.61 L591.85 253.64 L592.78 253.66 L593.72 253.69 L594.65 253.71 L595.59 253.73 L596.52 253.75 L597.46 253.78 L598.40 253.80 L599.33 253.82 L600.27 253.83 L601.20 253.85 L602.14 253.87 L603.07 253.89 L604.01 253.91 L604.94 253.92 L605.88 253.94 L606.82 253.95 L607.75 253.97 L608.69 253.98 L609.62 254.00 L610.56 254.01 L611.49 254.03 L612.43 254.04 L613.37 254.05 L614.30 254.06 L615.24 254.08 L616.17 254.09 L617.11 254.10 L618.04 254.11 L618.98 254.12 L619.92 254.13 L620.85 254.14 L621.79 254.15 L622.72 254.16 L623.66 254.17 L624.59 254.18 L625.53 254.19 L626.46 254.19 L627.40 254.20 L628.34 254.21 L629.27 254.22 L630.21 254.22 L631.14 254.23 L632.08 254.24 L633.01 254.25 L633.95 254.25 L634.89 254.26 L635.82 254.26 L636.76 254.27 L637.69 254.28 L638.63 254.28 L639.56 254.29 L640.50 254.29 L641.43 254.30 L642.37 254.30 L643.31 254.31 L644.24 254.31 L645.18 254.32 L646.11 254.32 L647.05 254.33 L647.98 254.33 L648.92 254.33 L649.86 254.34 L650.79 254.34 L651.73 254.34 L652.66 254.35 L653.60 254.35 L654.53 254.35 L655.47 254.36 L656.41 254.36 L657.34 254.36 L658.28 254.37 L659.21 254.37 L660.15 254.37 L661.08 254.38 L662.02 254.38 L662.95 254.38 L663.89 254.38 L664.83 254.39 L665.76 254.39 L666.70 254.39 L667.63 254.39 L668.57 254.39 L669.50 254.40 L670.44 254.40 L671.38 254.40 L672.31 254.40 L673.25 254.40 L674.18 254.41 L675.12 254.41 L676.05 254.41 L676.99 254.41 L677.93 254.41 L678.86 254.41 L679.80 254.41 L680.73 254.42 L681.67 254.42 L682.60 254.42 L683.54 254.42 L684.47 254.42 L685.41 254.42 L686.35 254.42 L687.28 254.42 L688.22 254.42 L689.15 254.43 L690.09 254.43 L691.02 254.43 L691.96 254.43 L692.90 254.43 L693.83 254.43 L694.77 254.43 L695.70 254.43 L696.64 254.43 L697.57 254.43 L698.51 254.43 L699.45 254.43 L700.38 254.44 L701.32 254.44 L702.25 254.44 L703.19 254.44 L704.12 254.44 L705.06 254.44 L705.99 254.44 L706.93 254.44 L707.87 254.44 L708.80 254.44 L709.74 254.44 L710.67 254.44 L711.61 254.44 L712.54 254.44 L713.48 254.44 L714.42 254.44 L715.35 254.44 L716.29 254.44 L717.22 254.44 L718.16 254.44 L719.09 254.44 L720.03 254.44 L720.96 254.44 L721.90 254.44 L722.84 254.45 L723.77 254.45 L724.71 254.45 L725.64 254.45 L726.58 254.45 L727.51 254.45 L728.45 254.45 L729.39 254.45 L730.32 254.45 L731.26 254.45 L732.19 254.45 L733.13 254.45 L734.06 254.45 L735.00 254.45 L735.94 254.45 L736.87 254.45 L737.81 254.45 L738.74 254.45 L739.68 254.45 L740.61 254.45 L741.55 254.45 L742.48 254.45 L743.42 254.45 L744.36 254.45 L745.29 254.45 L746.23 254.45 L747.16 254.45 L748.10 254.45 L749.03 254.45 L749.97 254.45 L750.91 254.45 L751.84 254.45 L752.78 254.45 L753.71 254.45 L754.65 254.45 L755.58 254.45 L756.52 254.45 L757.46 254.45 L758.39 254.45 L759.33 254.45 L760.26 254.45 L761.20 254.45 L762.13 254.45 L763.07 254.45 L764.00 254.45 L764.94 254.45 L765.88 254.45 L766.81 254.45 L767.75 254.45 L768.68 254.45 L769.62 254.45 L770.55 254.45 L771.49 254.45 L772.43 254.45 L773.36 254.45 L774.30 254.45 L775.23 254.45 L776.17 254.45 L777.10 254.45 L778.04 254.45 L778.98 254.45 L779.91 254.45 L780.85 254.45 L781.78 254.45 L782.72 254.45 L783.65 254.45 L784.59 254.45 L785.52 254.45 L786.46 254.45 L787.40 254.45 L788.33 254.45 L789.27 254.45 L790.20 254.45 L791.14 254.45 L792.07 254.45 L793.01 254.45 L793.95 254.45 L794.88 254.45 L795.82 254.45 L796.75 254.45 L797.69 254.45 L798.62 254.45 L799.56 254.45 L800.49 254.45 L801.43 254.45 L802.37 254.45 L803.30 254.45 L804.24 254.45 L805.17 254.45 L806.11 254.45 L807.04 254.45 L807.98 254.45 L808.92 254.45 L809.85 254.45 L810.79 254.45 L811.72 254.45 L812.66 254.45 L813.59 254.45 L814.53 254.45 L815.47 254.45 L816.40 254.45 L817.34 254.45 L818.27 254.45 L819.21 254.45 L820.14 254.45 L821.08 254.45 L822.01 254.45 L822.95 254.45 L823.89 254.45 L824.82 254.45 L825.76 254.45 L826.69 254.45 L827.63 254.45 L828.56 254.45 L829.50 254.45 L830.44 254.45 L831.37 254.45" stroke="#00ff00"/>
<path d="M32.33 131.43 L33.26 131.43 L34.20 131.43 L35.14 131.43 L36.07 131.43 L37.01 131.43 L37.94 131.43 L38.88 131.43 L39.81 131.43 L40.75 131.43 L41.69 131.43 L42.62 131.43 L43.56 131.43 L44.49 131.43 L45.43 131.43 L46.36 131.43 L47.30 131.43 L48.23 131.43 L49.17 131.43 L50.11 131.43 L51.04 131.43 L51.98 131.43 L52.91 131.43 L53.85 131.43 L54.78 131.43 L55.72 131.43 L56.66 131.43 L57.59 131.43 L58.53 131.43 L59.46 131.43 L60.40 131.43 L61.33 131.43 L62.27 131.43 L63.21 131.43 L64.14 131.43 L65.08 131.43 L66.01 131.43 L66.95 131.43 L67.88 131.43 L68.82 131.43 L69.75 131.43 L70.69 131.43 L71.63 131.43 L72.56 131.43 L73.50 131.43 L74.43 131.43 L75.37 131.43 L76.30 131.43 L77.24 131.43 L78.18 131.43 L79.11 131.43 L80.05 131.43 L80.98 131.43 L81.92 131.43 L82.85 131.43 L83.79 131.43 L84.72 131.43 L85.66 131.43 L86.60 131.43 L87.53 131.43 L88.47 131.43 L89.40 131.43 L90.34 131.43 L91.27 131.43 L92.21 131.43 L93.15 131.43 L94.08 131.43 L95.02 131.43 L95.95 131.43 L96.89 131.43 L97.82 131.43 L98.76 131.43 L99.70 131.43 L100.63 131.43 L101.57 131.43 L102.50 131.43 L103.44 131.43 L104.37 131.43 L105.31 131.43 L106.24 131.43 L107.18 131.43 L108.12 131.44 L109.05 131.44 L109.99 131.44 L110.92 131.44 L111.86 131.44 L112.79 131.44 L113.73 131.44 L114.67 131.44 L115.60 131.44 L116.54 131.44 L117.47 131.44 L118.41 131.44 L119.34 131.44 L120.28 131.44 L121.22 131.44 L122.15 131.44 L123.09 131.44 L124.02 131.44 L124.96 131.44 L125.89 131.44 L126.83 131.44 L127.76 131.44 L128.70 131.44 L129.64 131.44 L130.57 131.45 L131.51 131.45 L132.44 131.45 L133.38 131.45 L134.31 131.45 L135.25 131.45 L136.19 131.45 L137.12 131.45 L138.06 131.45 L138.99 131.45 L139.93 131.45 L140.86 131.45 L141.80 131.45 L142.74 131.46 L143.67 131.46 L144.61 131.46 L145.54 131.46 L146.48 131.46 L147.41 131.46 L148.35 131.46 L149.28 131.46 L150.22 131.46 L151.16 131.46 L152.09 131.47 L153.03 131.47 L153.96 131.47 L154.90 131.47 L155.83 131.47 L156.77 131.47 L157.71 131.47 L158.64 131.48 L159.58 131.48 L160.51 131.48 L161.45 131.48 L162.38 131.48 L163.32 131.48 L164.25 131.49 L165.19 131.49 L166.13 131.49 L167.06 131.49 L168.00 131.49 L168.93 131.50 L169.87 131.50 L170.80 131.50 L171.74 131.50 L172.68 131.50 L173.61 131.51 L174.55 131.51 L175.48 131.51 L176.42 131.51 L177.35 131.52 L178.29 131.52 L179.23 131.52 L180.16 131.53 L181.10 131.53 L182.03 131.53 L182.97 131.54 L183.90 131.54 L184.84 131.54 L185.77 131.55 L186.71 131.55 L187.65 131.55 L188.58 131.56 L189.52 131.56 L190.45 131.57 L191.39 131.57 L192.32 131.57 L193.26 131.58 L194.20 131.58 L195.13 131.59 L196.07 131.59 L197.00 131.60 L197.94 131.60 L198.87 131.61 L199.81 131.61 L200.75 131.62 L201.68 131.63 L202.62 131.63 L203.55 131.64 L204.49 131.64 L205.42 131.65 L206.36 131.66 L207.29 131.67 L208.23 131.67 L209.17 131.68 L210.10 131.69 L211.04 131.70 L211.97 131.70 L212.91 131.71 L213.84 131.72 L214.78 131.73 L215.72 131.74 L216.65 131.75 L217.59 131.76 L218.52 131.77 L219.46 131.78 L220.39 131.79 L221.33 131.80 L222.27 131.81 L223.20 131.83 L224.14 131.84 L225.07 131.85 L226.01 131.86 L226.94 131.88 L227.88 131.89 L228.81 131.90 L229.75 131.92 L230.69 131.93 L231.62 131.95 L232.56 131.97 L233.49 131.98 L234.43 132.00 L235.36 132.02 L236.30 132.03 L237.24 132.05 L238.17 132.07 L239.11 132.09 L240.04 132.11 L240.98 132.13 L241.91 132.15 L242.85 132.18 L243.78 132.20 L244.72 132.22 L245.66 132.25 L246.59 132.27 L247.53 132.30 L248.46 132.32 L249.40 132.35 L250.33 132.38 L251.27 132.41 L252.21 132.44 L253.14 132.47 L254.08 132.50 L255.01 132.53 L255.95 132.56 L256.88 132.60 L257.82 132.63 L258.76 132.67 L259.69 132.71 L260.63 132.75 L261.56 132.79 L262.50 132.83 L263.43 132.87 L264.37 132.91 L265.30 132.96 L266.24 133.01 L267.18 133.05 L268.11 133.10 L269.05 133.15 L269.98 133.21 L270.92 133.26 L271.85 133.31 L272.79 133.37 L273.73 133.43 L274.66 133.49 L275.60 133.55 L276.53 133.62 L277.47 133.68 L278.40 133.75 L279.34 133.82 L280.28 133.89 L281.21 133.97 L282.15 134.04 L283.08 134.12 L284.02 134.20 L284.95 134.29 L285.89 134.37 L286.82 134.46 L287.76 134.55 L288.70 134.64 L289.63 134.74 L290.57 134.84 L291.50 134.94 L292.44 135.05 L293.37 135.15 L294.31 135.27 L295.25 135.38 L296.18 135.50 L297.12 135.62 L298.05 135.74 L298.99 135.87 L299.92 136.00 L300.86 136.14 L301.80 136.28 L302.73 136.42 L303.67 136.57 L304.60 136.72 L305.54 136.88 L306.47 137.04 L307.41 137.21 L308.34 137.38 L309.28 137.55 L310.22 137.73 L311.15 137.92 L312.09 138.11 L313.02 138.31 L313.96 138.51 L314.89 138.71 L315.83 138.93 L316.77 139.15 L317.70 139.37 L318.64 139.60 L319.57 139.84 L320.51 140.09 L321.44 140.34 L322.38 140.59 L323.31 140.86 L324.25 141.13 L325.19 141.41 L326.12 141.70 L327.06 141.99 L327.99 142.30 L328.93 142.61 L329.86 142.93 L330.80 143.25 L331.74 143.59 L332.67 143.94 L333.61 144.29 L334.54 144.65 L335.48 145.03 L336.41 145.41 L337.35 145.80 L338.29 146.21 L339.22 146.62 L340.16 147.04 L341.09 147.48 L342.03 147.92 L342.96 148.38 L343.90 148.85 L344.83 149.32 L345.77 149.82 L346.71 150.32 L347.64 150.83 L348.58 151.36 L349.51 151.90 L350.45 152.45 L351.38 153.02 L352.32 153.60 L353.26 154.19 L354.19 154.79 L355.13 155.41 L356.06 156.05 L357.00 156.69 L357.93 157.35 L358.87 158.03 L359.81 158.72 L360.74 159.43 L361.68 160.15 L362.61 160.88 L363.55 161.63 L364.48 162.40 L365.42 163.18 L366.35 163.97 L367.29 164.79 L368.23 165.61 L369.16 166.46 L370.10 167.32 L371.03 168.19 L371.97 169.08 L372.90 169.99 L373.84 170.91 L374.78 171.85 L375.71 172.81 L376.65 173.78 L377.58 174.77 L378.52 175.77 L379.45 176.79 L380.39 177.82 L381.33 178.87 L382.26 179.94 L383.20 181.02 L384.13 182.11 L385.07 183.22 L386.00 184.35 L386.94 185.49 L387.87 186.64 L388.81 187.81 L389.75 188.99 L390.68 190.19 L391.62 191.40 L392.55 192.62 L393.49 193.85 L394.42 195.10 L395.36 196.35 L396.30 197.62 L397.23 198.90 L398.17 200.19 L399.10 201.49 L400.04 202.80 L400.97 204.11 L401.91 205.44 L402.84 206.77 L403.78 208.12 L404.72 209.46 L405.65 210.82 L406.59 212.18 L407.52 213.54 L408.46 214.91 L409.39 216.29 L410.33 217.66 L411.27 219.04 L412.20 220.43 L413.14 221.81 L414.07 223.19 L415.01 224.58 L415.94 225.96 L416.88 227.34 L417.82 228.73 L418.75 230.11 L419.69 231.48 L420.62 232.85 L421.56 234.22 L422.49 235.59 L423.43 236.95 L424.36 238.30 L425.30 239.65 L426.24 240.99 L427.17 242.32 L428.11 243.64 L429.04 244.96 L429.98 246.27 L430.91 247.56 L431.85 248.85 L432.79 250.13 L433.72 251.39 L434.66 252.65 L435.59 253.89 L436.53 255.12 L437.46 256.34 L438.40 257.54 L439.34 258.74 L440.27 259.92 L441.21 261.08 L442.14 262.23 L443.08 263.37 L444.01 264.49 L444.95 265.60 L445.88 266.69 L446.82 267.77 L447.76 268.83 L448.69 269.88 L449.63 270.91 L450.56 271.93 L451.50 272.93 L452.43 273.91 L453.37 274.88 L454.31 275.83 L455.24 276.77 L456.18 277.69 L457.11 278.59 L458.05 279.48 L458.98 280.36 L459.92 281.21 L460.86 282.05 L461.79 282.88 L462.73 283.69 L463.66 284.48 L464.60 285.26 L465.53 286.03 L466.47 286.77 L467.40 287.51 L468.34 288.23 L469.28 288.93 L470.21 289.62 L471.15 290.29 L472.08 290.95 L473.02 291.60 L473.95 292.23 L474.89 292.85 L475.83 293.46 L476.76 294.05 L477.70 294.63 L478.63 295.19 L479.57 295.74 L480.50 296.28 L481.44 296.81 L482.37 297.33 L483.31 297.83 L484.25 298.32 L485.18 298.80 L486.12 299.27 L487.05 299.73 L487.99 300.18 L488.92 300.61 L489.86 301.04 L490.80 301.45 L491.73 301.86 L492.67 302.25 L493.60 302.64 L494.54 303.02 L495.47 303.38 L496.41 303.74 L497.35 304.09 L498.28 304.43 L499.22 304.76 L500.15 305.09 L501.09 305.40 L502.02 305.71 L502.96 306.01 L503.89 306.30 L504.83 306.59 L505.77 306.87 L506.70 307.14 L507.64 307.40 L508.57 307.66 L509.51 307.91 L510.44 308.16 L511.38 308.40 L512.32 308.63 L513.25 308.86 L514.19 309.08 L515.12 309.29 L516.06 309.51 L516.99 309.71 L517.93 309.91 L518.87 310.11 L519.80 310.30 L520.74 310.49 L521.67 310.67 L522.61 310.85 L523.54 311.02 L524.48 311.19 L525.41 311.36 L526.35 311.52 L527.29 311.68 L528.22 311.83 L529.16 311.98 L530.09 312.13 L531.03 312.28 L531.96 312.42 L532.90 312.56 L533.84 312.70 L534.77 312.83 L535.71 312.96 L536.64 313.09 L537.58 313.21 L538.51 313.34 L539.45 313.46 L540.39 313.58 L541.32 313.70 L542.26 313.81 L543.19 313.93 L544.13 314.04 L545.06 314.15 L546.00 314.26 L546.93 314.36 L547.87 314.47 L548.81 314.57 L549.74 314.68 L550.68 314.78 L551.61 314.88 L552.55 314.98 L553.48 315.08 L554.42 315.18 L555.36 315.28 L556.29 315.38 L557.23 315.47 L558.16 315.57 L559.10 315.67 L560.03 315.76 L560.97 315.86 L561.90 315.96 L562.84 316.05 L563.78 316.15 L564.71 316.24 L565.65 316.34 L566.58 316.44 L567.52 316.54 L568.45 316.63 L569.39 316.73 L570.33 316.83 L571.26 316.93 L572.20 317.03 L573.13 317.13 L574.07 317.23 L575.00 317.34 L575.94 317.44 L576.88 317.55 L577.81 317.65 L578.75 317.76 L579.68 317.87 L580.62 317.99 L581.55 318.10 L582.49 318.21 L583.42 318.33 L584.36 318.45 L585.30 318.57 L586.23 318.70 L587.17 318.82 L588.10 318.95 L589.04 319.08 L589.97 319.21 L590.91 319.35 L591.85 319.49 L592.78 319.63 L593.72 319.77 L594.65 319.92 L595.59 320.07 L596.52 320.23 L597.46 320.39 L598.40 320.55 L599.33 320.71 L600.27 320.88 L601.20 321.06 L602.14 321.23 L603.07 321.42 L604.01 321.60 L604.94 321.79 L605.88 321.99 L606.82 322.19 L607.75 322.39 L608.69 322.60 L609.62 322.82 L610.56 323.04 L611.49 323.27 L612.43 323.50 L613.37 323.74 L614.30 323.98 L615.24 324.23 L616.17 324.49 L617.11 324.75 L618.04 325.02 L618.98 325.30 L619.92 325.59 L620.85 325.88 L621.79 326.18 L622.72 326.48 L623.66 326.80 L624.59 327.12 L625.53 327.45 L626.46 327.79 L627.40 328.14 L628.34 328.50 L629.27 328.86 L630.21 329.24 L631.14 329.62 L632.08 330.02 L633.01 330.42 L633.95 330.83 L634.89 331.26 L635.82 331.69 L636.76 332.14 L637.69 332.60 L638.63 333.06 L639.56 333.54 L640.50 334.03 L641.43 334.53 L642.37 335.05 L643.31 335.57 L644.24 336.11 L645.18 336.66 L646.11 337.23 L647.05 337.80 L647.98 338.39 L648.92 339.00 L649.86 339.61 L650.79 340.24 L651.73 340.89 L652.66 341.55 L653.60 342.22 L654.53 342.91 L655.47 343.61 L656.41 344.33 L657.34 345.06 L658.28 345.80 L659.21 346.57 L660.15 347.34 L661.08 348.14 L662.02 348.94 L662.95 349.77 L663.89 350.61 L664.83 351.46 L665.76 352.33 L666.70 353.22 L667.63 354.12 L668.57 355.04 L669.50 355.98 L670.44 356.93 L671.38 357.89 L672.31 358.87 L673.25 359.87 L674.18 360.89 L675.12 361.92 L676.05 362.96 L676.99 364.02 L677.93 365.10 L678.86 366.19 L679.80 367.29 L680.73 368.41 L681.67 369.55 L682.60 370.70 L683.54 371.86 L684.47 373.04 L685.41 374.23 L686.35 375.43 L687.28 376.65 L688.22 377.88 L689.15 379.12 L690.09 380.37 L691.02 381.64 L691.96 382.91 L692.90 384.20 L693.83 385.50 L694.77 386.80 L695.70 388.12 L696.64 389.44 L697.57 390.77 L698.51 392.11 L699.45 393.46 L700.38 394.81 L701.32 396.17 L702.25 397.53 L703.19 398.90 L704.12 400.27 L705.06 401.65 L705.99 403.03 L706.93 404.41 L707.87 405.79 L708.80 407.17 L709.74 408.56 L710.67 409.94 L711.61 411.33 L712.54 412.71 L713.48 414.09 L714.42 415.47 L715.35 416.84 L716.29 418.21 L717.22 419.58 L718.16 420.94 L719.09 422.29 L720.03 423.64 L720.96 424.98 L721.90 426.32 L722.84 427.65 L723.77 428.96 L724.71 430.27 L725.64 431.57 L726.58 432.87 L727.51 434.15 L728.45 435.41 L729.39 436.67 L730.32 437.92 L731.26 439.15 L732.19 440.38 L733.13 441.59 L734.06 442.78 L735.00 443.97 L735.94 445.14 L736.87 446.29 L737.81 447.43 L738.74 448.56 L739.68 449.67 L740.61 450.77 L741.55 451.85 L742.48 452.92 L743.42 453.97 L744.36 455.01 L745.29 456.03 L746.23 457.03 L747.16 458.02 L748.10 459.00 L749.03 459.95 L749.97 460.89 L750.91 461.82 L751.84 462.73 L752.78 463.62 L753.71 464.50 L754.65 465.36 L755.58 466.21 L756.52 467.04 L757.46 467.85 L758.39 468.65 L759.33 469.43 L760.26 470.20 L761.20 470.95 L762.13 471.69 L763.07 472.41 L764.00 473.12 L764.94 473.81 L765.88 474.49 L766.81 475.15 L767.75 475.80 L768.68 476.43 L769.62 477.05 L770.55 477.66 L771.49 478.26 L772.43 478.84 L773.36 479.40 L774.30 479.96 L775.23 480.50 L776.17 481.03 L777.10 481.54 L778.04 482.05 L778.98 482.54 L779.91 483.02 L780.85 483.49 L781.78 483.95 L782.72 484.39 L783.65 484.83 L784.59 485.25 L785.52 485.67 L786.46 486.07 L787.40 486.47 L788.33 486.85 L789.27 487.23 L790.20 487.59 L791.14 487.95 L792.07 488.29 L793.01 488.63 L793.95 488.96 L794.88 489.28 L795.82 489.59 L796.75 489.89 L797.69 490.19 L798.62 490.48 L799.56 490.76 L800.49 491.03 L801.43 491.30 L802.37 491.56 L803.30 491.81 L804.24 492.05 L805.17 492.29 L806.11 492.52 L807.04 492.75 L807.98 492.97 L808.92 493.18 L809.85 493.39 L810.79 493.59 L811.72 493.79 L812.66 493.98 L813.59 494.17 L814.53 494.35 L815.47 494.52 L816.40 494.70 L817.34 494.86 L818.27 495.02 L819.21 495.18 L820.14 495.33 L821.08 495.48 L822.01 495.63 L822.95 495.77 L823.89 495.90 L824.82 496.04 L825.76 496.16 L826.69 496.29 L827.63 496.41 L828.56 496.53 L829.50 496.64 L830.44 496.76 L831.37 496.86" stroke="#ff0000"/>
<path d="M32.33 254.45 L33.26 254.45 L34.20 254.45 L35.14 254.45 L36.07 254.45 L37.01 254.45 L37.94 254.45 L38.88 254.45 L39.81 254.45 L40.75 254.45 L41.69 254.45 L42.62 254.45 L43.56 254.45 L44.49 254.45 L45.43 254.45 L46.36 254.45 L47.30 254.45 L48.23 254.45 L49.17 254.45 L50.11 254.45 L51.04 254.45 L51.98 254.45 L52.91 254.45 L53.85 254.45 L54.78 254.45 L55.72 254.45 L56.66 254.45 L57.59 254.45 L58.53 254.45 L59.46 254.45 L60.40 254.45 L61.33 254.45 L62.27 254.45 L63.21 254.45 L64.14 254.45 L65.08 254.45 L66.01 254.45 L66.95 254.45 L67.88 254.45 L68.82 254.45 L69.75 254.45 L70.69 254.45 L71.63 254.45 L72.56 254.45 L73.50 254.45 L74.43 254.45 L75.37 254.45 L76.30 254.45 L77.24 254.45 L78.18 254.45 L79.11 254.45 L80.05 254.45 L80.98 254.45 L81.92 254.45 L82.85 254.45 L83.79 254.45 L84.72 254.45 L85.66 254.45 L86.60 254.45 L87.53 254.45 L88.47 254.45 L89.40 254.45 L90.34 254.45 L91.27 254.45 L92.21 254.45 L93.15 254.45 L94.08 254.45 L95.02 254.45 L95.95 254.45 L96.89 254.45 L97.82 254.45 L98.76 254.45 L99.70 254.46 L100.63 254.46 L101.57 254.46 L102.50 254.46 L103.44 254.46 L104.37 254.46 L105.31 254.46 L106.24 254.46 L107.18 254.46 L108.12 254.46 L109.05 254.46 L109.99 254.46 L110.92 254.46 L111.86 254.46 L112.79 254.46 L113.73 254.46 L114.67 254.46 L115.60 254.46 L116.54 254.46 L117.47 254.46 L118.41 254.46 L119.34 254.46 L120.28 254.46 L121.22 254.46 L122.15 254.46 L123.09 254.46 L124.02 254.46 L124.96 254.46 L125.89 254.46 L126.83 254.46 L127.76 254.46 L128.70 254.46 L129.64 254.46 L130.57 254.46 L131.51 254.46 L132.44 254.46 L133.38 254.47 L134.31 254.47 L135.25 254.47 L136.19 254.47 L137.12 254.47 L138.06 254.47 L138.99 254.47 L139.93 254.47 L140.86 254.47 L141.80 254.47 L142.74 254.47 L143.67 254.47 L144.61 254.47 L145.54 254.47 L146.48 254.47 L147.41 254.47 L148.35 254.47 L149.28 254.47 L150.22 254.48 L151.16 254.48 L152.09 254.48 L153.03 254.48 L153.96 254.48 L154.90 254.48 L155.83 254.48 L156.77 254.48 L157.71 254.48 L158.64 254.48 L159.58 254.48 L160.51 254.49 L161.45 254.49 L162.38 254.49 L163.32 254.49 L164.25 254.49 L165.19 254.49 L166.13 254.49 L167.06 254.49 L168.00 254.50 L168.93 254.50 L169.87 254.50 L170.80 254.50 L171.74 254.50 L172.68 254.50 L173.61 254.50 L174.55 254.51 L175.48 254.51 L176.42 254.51 L177.35 254.51 L178.29 254.51 L179.23 254.52 L180.16 254.52 L181.10 254.52 L182.03 254.52 L182.97 254.52 L183.90 254.53 L184.84 254.53 L185.77 254.53 L186.71 254.53 L187.65 254.54 L188.58 254.54 L189.52 254.54 L190.45 254.54 L191.39 254.55 L192.32 254.55 L193.26 254.55 L194.20 254.56 L195.13 254.56 L196.07 254.56 L197.00 254.57 L197.94 254.57 L198.87 254.57 L199.81 254.58 L200.75 254.58 L201.68 254.58 L202.62 254.59 L203.55 254.59 L204.49 254.60 L205.42 254.60 L206.36 254.61 L207.29 254.61 L208.23 254.62 L209.17 254.62 L210.10 254.63 L211.04 254.63 L211.97 254.64 L212.91 254.64 L213.84 254.65 L214.78 254.65 L215.72 254.66 L216.65 254.67 L217.59 254.67 L218.52 254.68 L219.46 254.69 L220.39 254.69 L221.33 254.70 L222.27 254.71 L223.20 254.72 L224.14 254.73 L225.07 254.73 L226.01 254.74 L226.94 254.75 L227.88 254.76 L228.81 254.77 L229.75 254.78 L230.69 254.79 L231.62 254.80 L232.56 254.81 L233.49 254.82 L234.43 254.83 L235.36 254.84 L236.30 254.86 L237.24 254.87 L238.17 254.88 L239.11 254.89 L240.04 254.91 L240.98 254.92 L241.91 254.94 L242.85 254.95 L243.78 254.97 L244.72 254.98 L245.66 255.00 L246.59 255.01 L247.53 255.03 L248.46 255.05 L249.40 255.07 L250.33 255.09 L251.27 255.10 L252.21 255.12 L253.14 255.14 L254.08 255.17 L255.01 255.19 L255.95 255.21 L256.88 255.23 L257.82 255.26 L258.76 255.28 L259.69 255.31 L260.63 255.33 L261.56 255.36 L262.50 255.39 L263.43 255.41 L264.37 255.44 L265.30 255.47 L266.24 255.50 L267.18 255.54 L268.11 255.57 L269.05 255.60 L269.98 255.64 L270.92 255.67 L271.85 255.71 L272.79 255.75 L273.73 255.79 L274.66 255.83 L275.60 255.87 L276.53 255.91 L277.47 255.96 L278.40 256.00 L279.34 256.05 L280.28 256.10 L281.21 256.14 L282.15 256.20 L283.08 256.25 L284.02 256.30 L284.95 256.36 L285.89 256.41 L286.82 256.47 L287.76 256.53 L288.70 256.60 L289.63 256.66 L290.57 256.73 L291.50 256.79 L292.44 256.86 L293.37 256.94 L294.31 257.01 L295.25 257.09 L296.18 257.17 L297.12 257.25 L298.05 257.33 L298.99 257.42 L299.92 257.50 L300.86 257.59 L301.80 257.69 L302.73 257.78 L303.67 257.88 L304.60 257.98 L305.54 258.09 L306.47 258.19 L307.41 258.31 L308.34 258.42 L309.28 258.54 L310.22 258.66 L311.15 258.78 L312.09 258.91 L313.02 259.04 L313.96 259.17 L314.89 259.31 L315.83 259.45 L316.77 259.60 L317.70 259.75 L318.64 259.90 L319.57 260.06 L320.51 260.22 L321.44 260.39 L322.38 260.56 L323.31 260.74 L324.25 260.92 L325.19 261.11 L326.12 261.30 L327.06 261.50 L327.99 261.70 L328.93 261.90 L329.86 262.12 L330.80 262.34 L331.74 262.56 L332.67 262.79 L333.61 263.03 L334.54 263.27 L335.48 263.52 L336.41 263.77 L337.35 264.04 L338.29 264.30 L339.22 264.58 L340.16 264.86 L341.09 265.15 L342.03 265.45 L342.96 265.75 L343.90 266.06 L344.83 266.38 L345.77 266.71 L346.71 267.05 L347.64 267.39 L348.58 267.74 L349.51 268.10 L350.45 268.47 L351.38 268.85 L352.32 269.23 L353.26 269.63 L354.19 270.03 L355.13 270.44 L356.06 270.86 L357.00 271.30 L357.93 271.74 L358.87 272.19 L359.81 272.65 L360.74 273.12 L361.68 273.60 L362.61 274.09 L363.55 274.59 L364.48 275.10 L365.42 275.62 L366.35 276.15 L367.29 276.69 L368.23 277.24 L369.16 277.81 L370.10 278.38 L371.03 278.96 L371.97 279.56 L372.90 280.16 L373.84 280.78 L374.78 281.40 L375.71 282.04 L376.65 282.69 L377.58 283.34 L378.52 284.01 L379.45 284.69 L380.39 285.38 L381.33 286.08 L382.26 286.79 L383.20 287.51 L384.13 288.24 L385.07 288.98 L386.00 289.73 L386.94 290.49 L387.87 291.26 L388.81 292.04 L389.75 292.83 L390.68 293.62 L391.62 294.43 L392.55 295.24 L393.49 296.07 L394.42 296.90 L395.36 297.73 L396.30 298.58 L397.23 299.43 L398.17 300.29 L399.10 301.16 L400.04 302.03 L400.97 302.91 L401.91 303.79 L402.84 304.68 L403.78 305.58 L404.72 306.48 L405.65 307.38 L406.59 308.29 L407.52 309.20 L408.46 310.11 L409.39 311.02 L410.33 311.94 L411.27 312.86 L412.20 313.78 L413.14 314.71 L414.07 315.63 L415.01 316.55 L415.94 317.47 L416.88 318.40 L417.82 319.32 L418.75 320.24 L419.69 321.15 L420.62 322.07 L421.56 322.98 L422.49 323.89 L423.43 324.80 L424.36 325.70 L425.30 326.60 L426.24 327.49 L427.17 328.38 L428.11 329.26 L429.04 330.14 L429.98 331.01 L430.91 331.88 L431.85 332.73 L432.79 333.58 L433.72 334.43 L434.66 335.26 L435.59 336.09 L436.53 336.91 L437.46 337.73 L438.40 338.53 L439.34 339.32 L440.27 340.11 L441.21 340.89 L442.14 341.66 L443.08 342.41 L444.01 343.16 L444.95 343.90 L445.88 344.63 L446.82 345.35 L447.76 346.05 L448.69 346.75 L449.63 347.44 L450.56 348.12 L451.50 348.78 L452.43 349.44 L453.37 350.09 L454.31 350.72 L455.24 351.35 L456.18 351.96 L457.11 352.56 L458.05 353.15 L458.98 353.74 L459.92 354.31 L460.86 354.87 L461.79 355.42 L462.73 355.96 L463.66 356.49 L464.60 357.01 L465.53 357.52 L466.47 358.02 L467.40 358.51 L468.34 358.98 L469.28 359.45 L470.21 359.91 L471.15 360.36 L472.08 360.80 L473.02 361.23 L473.95 361.66 L474.89 362.07 L475.83 362.47 L476.76 362.87 L477.70 363.25 L478.63 363.63 L479.57 364.00 L480.50 364.36 L481.44 364.71 L482.37 365.05 L483.31 365.39 L484.25 365.72 L485.18 366.04 L486.12 366.35 L487.05 366.65 L487.99 366.95 L488.92 367.24 L489.86 367.53 L490.80 367.80 L491.73 368.07 L492.67 368.34 L493.60 368.59 L494.54 368.84 L495.47 369.09 L496.41 369.33 L497.35 369.56 L498.28 369.79 L499.22 370.01 L500.15 370.22 L501.09 370.43 L502.02 370.64 L502.96 370.84 L503.89 371.04 L504.83 371.23 L505.77 371.41 L506.70 371.59 L507.64 371.77 L508.57 371.94 L509.51 372.11 L510.44 372.27 L511.38 372.43 L512.32 372.59 L513.25 372.74 L514.19 372.89 L515.12 373.03 L516.06 373.17 L516.99 373.31 L517.93 373.44 L518.87 373.57 L519.80 373.70 L520.74 373.82 L521.67 373.95 L522.61 374.06 L523.54 374.18 L524.48 374.29 L525.41 374.40 L526.35 374.51 L527.29 374.62 L528.22 374.72 L529.16 374.82 L530.09 374.92 L531.03 375.02 L531.96 375.11 L532.90 375.21 L533.84 375.30 L534.77 375.39 L535.71 375.47 L536.64 375.56 L537.58 375.64 L538.51 375.73 L539.45 375.81 L540.39 375.89 L541.32 375.96 L542.26 376.04 L543.19 376.12 L544.13 376.19 L545.06 376.27 L546.00 376.34 L546.93 376.41 L547.87 376.48 L548.81 376.55 L549.74 376.62 L550.68 376.69 L551.61 376.75 L552.55 376.82 L553.48 376.89 L554.42 376.95 L555.36 377.02 L556.29 377.09 L557.23 377.15 L558.16 377.21 L559.10 377.28 L560.03 377.34 L560.97 377.41 L561.90 377.47 L562.84 377.53 L563.78 377.60 L564.71 377.66 L565.65 377.73 L566.58 377.79 L567.52 377.86 L568.45 377.92 L569.39 377.99 L570.33 378.05 L571.26 378.12 L572.20 378.19 L573.13 378.25 L574.07 378.32 L575.00 378.39 L575.94 378.46 L576.88 378.53 L577.81 378.60 L578.75 378.68 L579.68 378.75 L580.62 378.82 L581.55 378.90 L582.49 378.98 L583.42 379.05 L584.36 379.13 L585.30 379.21 L586.23 379.30 L587.17 379.38 L588.10 379.47 L589.04 379.55 L589.97 379.64 L590.91 379.73 L591.85 379.83 L592.78 379.92 L593.72 380.02 L594.65 380.11 L595.59 380.22 L596.52 380.32 L597.46 380.42 L598.40 380.53 L599.33 380.64 L600.27 380.76 L601.20 380.87 L602.14 380.99 L603.07 381.11 L604.01 381.23 L604.94 381.36 L605.88 381.49 L606.82 381.63 L607.75 381.76 L608.69 381.90 L609.62 382.05 L610.56 382.19 L611.49 382.34 L612.43 382.50 L613.37 382.66 L614.30 382.82 L615.24 382.99 L616.17 383.16 L617.11 383.34 L618.04 383.52 L618.98 383.70 L619.92 383.89 L620.85 384.09 L621.79 384.28 L622.72 384.49 L623.66 384.70 L624.59 384.91 L625.53 385.14 L626.46 385.36 L627.40 385.59 L628.34 385.83 L629.27 386.08 L630.21 386.33 L631.14 386.58 L632.08 386.84 L633.01 387.11 L633.95 387.39 L634.89 387.67 L635.82 387.96 L636.76 388.26 L637.69 388.56 L638.63 388.88 L639.56 389.19 L640.50 389.52 L641.43 389.86 L642.37 390.20 L643.31 390.55 L644.24 390.91 L645.18 391.28 L646.11 391.65 L647.05 392.04 L647.98 392.43 L648.92 392.83 L649.86 393.24 L650.79 393.66 L651.73 394.09 L652.66 394.53 L653.60 394.98 L654.53 395.44 L655.47 395.91 L656.41 396.38 L657.34 396.87 L658.28 397.37 L659.21 397.88 L660.15 398.40 L661.08 398.92 L662.02 399.46 L662.95 400.01 L663.89 400.57 L664.83 401.14 L665.76 401.72 L666.70 402.31 L667.63 402.91 L668.57 403.53 L669.50 404.15 L670.44 404.78 L671.38 405.43 L672.31 406.08 L673.25 406.75 L674.18 407.42 L675.12 408.11 L676.05 408.81 L676.99 409.51 L677.93 410.23 L678.86 410.96 L679.80 411.70 L680.73 412.44 L681.67 413.20 L682.60 413.97 L683.54 414.74 L684.47 415.53 L685.41 416.32 L686.35 417.12 L687.28 417.93 L688.22 418.75 L689.15 419.58 L690.09 420.42 L691.02 421.26 L691.96 422.11 L692.90 422.97 L693.83 423.83 L694.77 424.70 L695.70 425.58 L696.64 426.46 L697.57 427.35 L698.51 428.24 L699.45 429.14 L700.38 430.04 L701.32 430.94 L702.25 431.85 L703.19 432.77 L704.12 433.68 L705.06 434.60 L705.99 435.52 L706.93 436.44 L707.87 437.36 L708.80 438.28 L709.74 439.21 L710.67 440.13 L711.61 441.05 L712.54 441.97 L713.48 442.89 L714.42 443.81 L715.35 444.73 L716.29 445.64 L717.22 446.55 L718.16 447.46 L719.09 448.36 L720.03 449.26 L720.96 450.16 L721.90 451.05 L722.84 451.93 L723.77 452.81 L724.71 453.68 L725.64 454.55 L726.58 455.41 L727.51 456.26 L728.45 457.11 L729.39 457.95 L730.32 458.78 L731.26 459.60 L732.19 460.42 L733.13 461.22 L734.06 462.02 L735.00 462.81 L735.94 463.59 L736.87 464.36 L737.81 465.12 L738.74 465.87 L739.68 466.62 L740.61 467.35 L741.55 468.07 L742.48 468.78 L743.42 469.48 L744.36 470.17 L745.29 470.85 L746.23 471.52 L747.16 472.18 L748.10 472.83 L749.03 473.47 L749.97 474.10 L750.91 474.71 L751.84 475.32 L752.78 475.91 L753.71 476.50 L754.65 477.07 L755.58 477.64 L756.52 478.19 L757.46 478.73 L758.39 479.27 L759.33 479.79 L760.26 480.30 L761.20 480.80 L762.13 481.29 L763.07 481.77 L764.00 482.24 L764.94 482.71 L765.88 483.16 L766.81 483.60 L767.75 484.03 L768.68 484.46 L769.62 484.87 L770.55 485.27 L771.49 485.67 L772.43 486.06 L773.36 486.44 L774.30 486.80 L775.23 487.17 L776.17 487.52 L777.10 487.86 L778.04 488.20 L778.98 488.53 L779.91 488.85 L780.85 489.16 L781.78 489.46 L782.72 489.76 L783.65 490.05 L784.59 490.34 L785.52 490.61 L786.46 490.88 L787.40 491.14 L788.33 491.40 L789.27 491.65 L790.20 491.89 L791.14 492.13 L792.07 492.36 L793.01 492.59 L793.95 492.81 L794.88 493.02 L795.82 493.23 L796.75 493.43 L797.69 493.63 L798.62 493.82 L799.56 494.01 L800.49 494.19 L801.43 494.37 L802.37 494.54 L803.30 494.71 L804.24 494.87 L805.17 495.03 L806.11 495.18 L807.04 495.33 L807.98 495.48 L808.92 495.62 L809.85 495.76 L810.79 495.90 L811.72 496.03 L812.66 496.15 L813.59 496.28 L814.53 496.40 L815.47 496.52 L816.40 496.63 L817.34 496.74 L818.27 496.85 L819.21 496.95 L820.14 497.06 L821.08 497.15 L822.01 497.25 L822.95 497.34 L823.89 497.44 L824.82 497.52 L825.76 497.61 L826.69 497.69 L827.63 497.77 L828.56 497.85 L829.50 497.93 L830.44 498.00 L831.37 498.08" stroke="#ff00ff"/>
</g>
<circle cx="735.94" cy="84.40" r="3.3" fill="#ff0000"/>
<g stroke="#666666" stroke-width="0.85" fill="none">
<rect x="34.20" y="8.40" width="795.30" height="492.10"/>
<path d="M80.98 500.50v-3.70M80.98 8.40v3.70M127.76 500.50v-3.70M127.76 8.40v3.70M174.55 500.50v-3.70M174.55 8.40v3.70M221.33 500.50v-3.70M221.33 8.40v3.70M268.11 500.50v-6.20M268.11 8.40v6.20M314.89 500.50v-3.70M314.89 8.40v3.70M361.68 500.50v-3.70M361.68 8.40v3.70M408.46 500.50v-3.70M408.46 8.40v3.70M455.24 500.50v-3.70M455.24 8.40v3.70M502.02 500.50v-6.20M502.02 8.40v6.20M548.81 500.50v-3.70M548.81 8.40v3.70M595.59 500.50v-3.70M595.59 8.40v3.70M642.37 500.50v-3.70M642.37 8.40v3.70M689.15 500.50v-3.70M689.15 8.40v3.70M735.94 500.50v-6.20M735.94 8.40v6.20M782.72 500.50v-3.70M782.72 8.40v3.70M34.20 475.89h3.60M829.50 475.89h-3.60M34.20 451.29h3.60M829.50 451.29h-3.60M34.20 426.69h3.60M829.50 426.69h-3.60M34.20 402.08h3.60M829.50 402.08h-3.60M34.20 377.48h5.70M829.50 377.48h-5.70M34.20 352.87h3.60M829.50 352.87h-3.60M34.20 328.26h3.60M829.50 328.26h-3.60M34.20 303.66h3.60M829.50 303.66h-3.60M34.20 279.05h3.60M829.50 279.05h-3.60M34.20 254.45h5.70M829.50 254.45h-5.70M34.20 229.84h3.60M829.50 229.84h-3.60M34.20 205.24h3.60M829.50 205.24h-3.60M34.20 180.63h3.60M829.50 180.63h-3.60M34.20 156.03h3.60M829.50 156.03h-3.60M34.20 131.42h5.70M829.50 131.42h-5.70M34.20 106.82h3.60M829.50 106.82h-3.60M34.20 82.21h3.60M829.50 82.21h-3.60M34.20 57.61h3.60M829.50 57.61h-3.60M34.20 33.00h3.60M829.50 33.00h-3.60"/>
</g>
<g fill="#606060" stroke="#606060" stroke-width="0.12" font-size="15" style="filter:grayscale(1)">
<text transform="translate(29.70 13.50) rotate(0.05) scale(0.98 1.002)" text-anchor="end">1.0</text>
<text transform="translate(29.70 136.52) rotate(0.05) scale(0.98 1.002)" text-anchor="end">0.5</text>
<text transform="translate(29.70 259.55) rotate(0.05) scale(0.98 1.002)" text-anchor="end">0.0</text>
<text transform="translate(29.70 382.58) rotate(0.05) scale(0.98 1.002)" text-anchor="end"><tspan dy="1.4">−</tspan><tspan dy="-1.4">0.5</tspan></text>
<text transform="translate(29.70 505.60) rotate(0.05) scale(0.98 1.002)" text-anchor="end"><tspan dy="1.4">−</tspan><tspan dy="-1.4">1.0</tspan></text>
<text transform="translate(34.20 518.25) rotate(0.05) scale(0.98 1.002)" text-anchor="middle"><tspan dy="1.4">−</tspan><tspan dy="-1.4">15</tspan></text>
<text transform="translate(268.11 518.25) rotate(0.05) scale(0.98 1.002)" text-anchor="middle"><tspan dy="1.4">−</tspan><tspan dy="-1.4">10</tspan></text>
<text transform="translate(502.02 518.25) rotate(0.05) scale(0.98 1.002)" text-anchor="middle"><tspan dy="1.4">−</tspan><tspan dy="-1.4">5</tspan></text>
<text transform="translate(735.94 518.25) rotate(0.05) scale(0.98 1.002)" text-anchor="middle">0</text>
<text x="432.00" y="544.20" text-anchor="middle" font-style="italic">N</text>
</g>
<rect x="65.5" y="318.5" width="96" height="167" rx="5.5" ry="5.5" fill="#ffffff" stroke="#a6a6a6" stroke-width="0.85"/>
<line x1="72.8" y1="335.40" x2="103.2" y2="335.40" stroke="#181818" stroke-width="2.6"/>
<line x1="72.8" y1="367.90" x2="103.2" y2="367.90" stroke="#0000ff" stroke-width="2.6"/>
<line x1="72.8" y1="400.40" x2="103.2" y2="400.40" stroke="#00ff00" stroke-width="2.6"/>
<line x1="72.8" y1="432.90" x2="103.2" y2="432.90" stroke="#ff0000" stroke-width="2.6"/>
<line x1="72.8" y1="465.40" x2="103.2" y2="465.40" stroke="#ff00ff" stroke-width="2.6"/>
<g fill="#111111" stroke="#111111" stroke-width="0.2" style="filter:grayscale(1)">
<text x="112" y="341.00" font-size="18.0">Ω<tspan font-size="13.5" font-style="normal" dx="0.6" dy="3.6">Λ</tspan></text>
<text x="112" y="373.50" font-size="18.0">Ω<tspan font-size="13.5" font-style="normal" dx="0.6" dy="3.6">EM</tspan></text>
<text x="112" y="406.00" font-size="18.0">Ω<tspan font-size="13.5" font-style="normal" dx="0.6" dy="3.6">dust</tspan></text>
<text x="112" y="438.50" font-size="18.0" font-style="italic">q<tspan font-size="13.5" font-style="normal" dx="0.6" dy="3.6"></tspan></text>
<text x="112" y="471.00" font-size="18.0" font-style="italic">ω<tspan font-size="13.5" font-style="normal" dx="0.6" dy="3.6">total</tspan></text>
</g>
</svg></body></html>
